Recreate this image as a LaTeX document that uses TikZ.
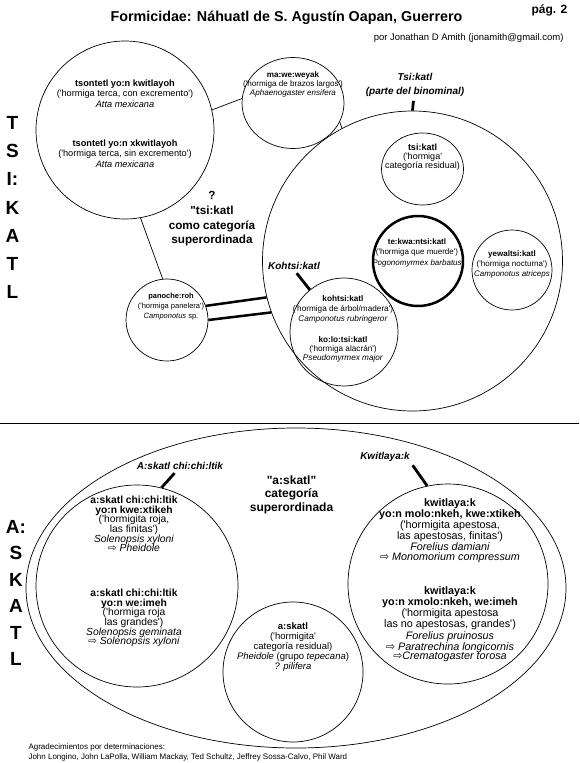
\documentclass[tikz,border=0pt]{standalone}
\usepackage{fontspec}
\setmainfont{Liberation Sans}
\newfontfamily\symfont{DejaVu Sans}
\usetikzlibrary{shapes.geometric, positioning}
\tikzstyle{ring}=[shape=circle, draw=black, line width=0.7pt, inner sep=0pt]
\tikzstyle{oval}=[shape=ellipse, draw=black, line width=0.7pt, inner sep=0pt]
\tikzstyle{txt}=[align=center, inner sep=1pt]
\tikzstyle{link}=[line width=0.7pt]
\tikzstyle{bar}=[line width=2.5pt]
\tikzstyle{tick}=[line width=2.8pt, shorten <=3pt]
\newcommand{\fs}[2]{\fontsize{#1}{#2}\selectfont}
\newcommand{\toarrow}{{\symfont\char"21E8}}
\newcommand{\sq}{\textquotesingle}
\newcommand{\dq}{\textquotedbl}

\begin{document}
\begin{tikzpicture}[x=1pt, y=-1pt]
\useasboundingbox (0,0) rectangle (579,763);
\node[font=\fs{14.3}{16}\bfseries] (title) at (286.5,18){Formicidae: Náhuatl de S. Agustín Oapan, Guerrero};
\node[font=\fs{12}{14}\bfseries] (page) at (549.5,10){pág. 2};
\node[font=\fs{9.5}{11}, anchor=east] (author) at (567,38){por Jonathan D Amith (jonamith@gmail.com)};
% tsi:katl half
\node[txt, font=\fs{19}{28.2}\bfseries] (tsiside) at (12.5,207.5){T\\S\\I:\\K\\A\\T\\L};
\node [ring, minimum size=178pt](terca) at (125,130){};
\node [oval, minimum width=102pt, minimum height=91pt](mawe) at (293,103){};
\node [ring, minimum size=300pt](tsikatl) at (412.5,261){};
\node [oval, minimum width=82pt, minimum height=72pt](tsik) at (422.5,169){};
\node [ring, line width=2.5pt, minimum size=90pt](tekwa) at (418,261){};
\node [ring, minimum size=80pt](yewal) at (512,270){};
\node [ring, minimum size=108pt](kohtsi) at (344,332){};
\node [ring, minimum size=82pt](panoche) at (167,320){};
\draw [link] (terca.13) -- (mawe.175);
\draw [link] (mawe.-22) -- (tsikatl.118);
\draw [link] (terca.-80) -- (panoche.96);
\draw [bar] (panoche.20) -- (tsikatl.194) (panoche.0) -- (tsikatl.200);
\node[txt, font=\fs{10}{14}\bfseries\itshape] (tsilbl) at (415,85){Tsi:katl\\(parte del binominal)};
\node[txt, font=\fs{10}{12}\bfseries\itshape] (kohlbl) at (294,266){Kohtsi:katl};
\draw [tick] (tsilbl) -- (tsikatl.north);
\draw [tick] (kohlbl.-80) -- (kohtsi.129);
\node[txt, font=\fs{9.2}{10.3}] (tercaA) at (125,93.5){\textbf{tsontetl yo:n kwitlayoh}\\(\sq hormiga terca, con excremento\sq)\\\textit{Atta mexicana}};
\node[txt, font=\fs{9.2}{10.3}] (tercaB) at (125,153.5){\textbf{tsontetl yo:n xkwitlayoh}\\(\sq hormiga terca, sin excremento\sq)\\\textit{Atta mexicana}};
\node[txt, font=\fs{8.1}{9}] (maweT) at (293,84){\textbf{ma:we:weyak}\\(\sq hormiga de brazos largos\sq)\\\textit{Aphaenogaster ensifera}};
\node[txt, font=\fs{9}{9.3}] (tsikT) at (422.5,157){\textbf{tsi:katl}\\(\sq hormiga\sq\\categoría residual)};
\node[txt, font=\fs{8}{10.5}] (tekwaT) at (417,252.5){\textbf{te:kwa:ntsi:katl}\\(\sq hormiga que muerde\sq)\\\textit{Pogonomyrmex barbatus}};
\node[txt, font=\fs{8}{10}] (yewalT) at (512,264){\textbf{yewaltsi:katl}\\(\sq hormiga nocturna\sq)\\\textit{Camponotus atriceps}};
\node[txt, font=\fs{8.2}{10.3}] (kohA) at (343,309.5){\textbf{kohtsi:katl}\\(\sq hormiga de árbol/madera\sq)\\\textit{Camponotus rubringeror}};
\node[txt, font=\fs{8.2}{9}] (kohB) at (343,349.5){\textbf{ko:lo:tsi:katl}\\(\sq hormiga alacrán\sq)\\\textit{Pseudomyrmex major}};
\node[txt, font=\fs{7.5}{9.7}] (panT) at (171,306.5){\textbf{panoche:roh}\\(\sq hormiga panelera\sq)\\\textit{Camponotus} sp.};
\node[txt, font=\fs{11.7}{14.6}\bfseries] (tsisuper) at (212,219){?\\\dq tsi:katl\\como categoría\\superordinada};
% a:skatl half
\draw [link] (0,423) -- (579,423);
\node[txt, font=\fs{19}{26.4}\bfseries] (askside) at (16,593){A:\\S\\K\\A\\T\\L};
\node [oval, minimum width=540pt, minimum height=320pt](askatl) at (296,588){};
\node [ring, minimum size=202pt](chichi) at (137,586){};
\node [ring, minimum size=200pt](kwitla) at (448,584){};
\node [ring, minimum size=140pt](resid) at (293,672){};
\node[txt, font=\fs{10}{12}\bfseries\itshape] (chichilbl) at (180,466){A:skatl chi:chi:ltik};
\node[txt, font=\fs{10}{12}\bfseries\itshape] (kwitlalbl) at (385,457){Kwitlaya:k};
\draw [tick] (chichilbl.-125) -- (chichi.76);
\draw [tick] (kwitlalbl.south east) -- (kwitla.102);
\node[txt, font=\fs{12}{13.5}\bfseries] (asksuper) at (291.5,494.5){\dq a:skatl\dq\\categoría\\superordinada};
\node[txt, font=\fs{10.3}{9.7}] (chichiA) at (134,524){\textbf{a:skatl chi:chi:ltik}\\\textbf{yo:n kwe:xtikeh}\\(\sq hormigita roja,\\las finitas\sq)\\\textit{Solenopsis xyloni}\\\toarrow\ \textit{Pheidole}};
\node[txt, font=\fs{10.3}{9.7}] (chichiB) at (134,618){\textbf{a:skatl chi:chi:ltik}\\\textbf{yo:n we:imeh}\\(\sq hormiga roja\\las grandes\sq)\\\textit{Solenopsis geminata}\\\toarrow\ \textit{Solenopsis xyloni}};
\node[txt, font=\fs{10.8}{9.8}] (kwitlaA) at (450,530.5){\textbf{kwitlaya:k}\\\textbf{yo:n molo:nkeh, kwe:xtikeh}\\(\sq hormigita apestosa,\\las apestosas, finitas\sq)\\\textit{Forelius damiani}\\\toarrow\ \textit{Monomorium compressum}};
\node[txt, font=\fs{10.8}{9.8}] (kwitlaB) at (450,624.5){\textbf{kwitlaya:k}\\\textbf{yo:n xmolo:nkeh, we:imeh}\\(\sq hormigita apestosa\\las no apestosas, grandes\sq)\\\textit{Forelius pruinosus}\\\toarrow\ \textit{Paratrechina longicornis}\\\toarrow\textit{Crematogaster torosa}};
\node[txt, font=\fs{9.5}{10}] (residT) at (293,647){\textbf{a:skatl}\\(\sq hormigita\sq\\categoría residual)\\\textit{Pheidole} (grupo \textit{tepecana})\\\textit{? pilifera}};
\node[anchor=west, align=left, font=\fs{8}{10}] (thanks) at (25,752){Agradecimientos por determinaciones:\\John Longino, John LaPolla, William Mackay, Ted Schultz, Jeffrey Sossa-Calvo, Phil Ward};
\end{tikzpicture}
\end{document}
